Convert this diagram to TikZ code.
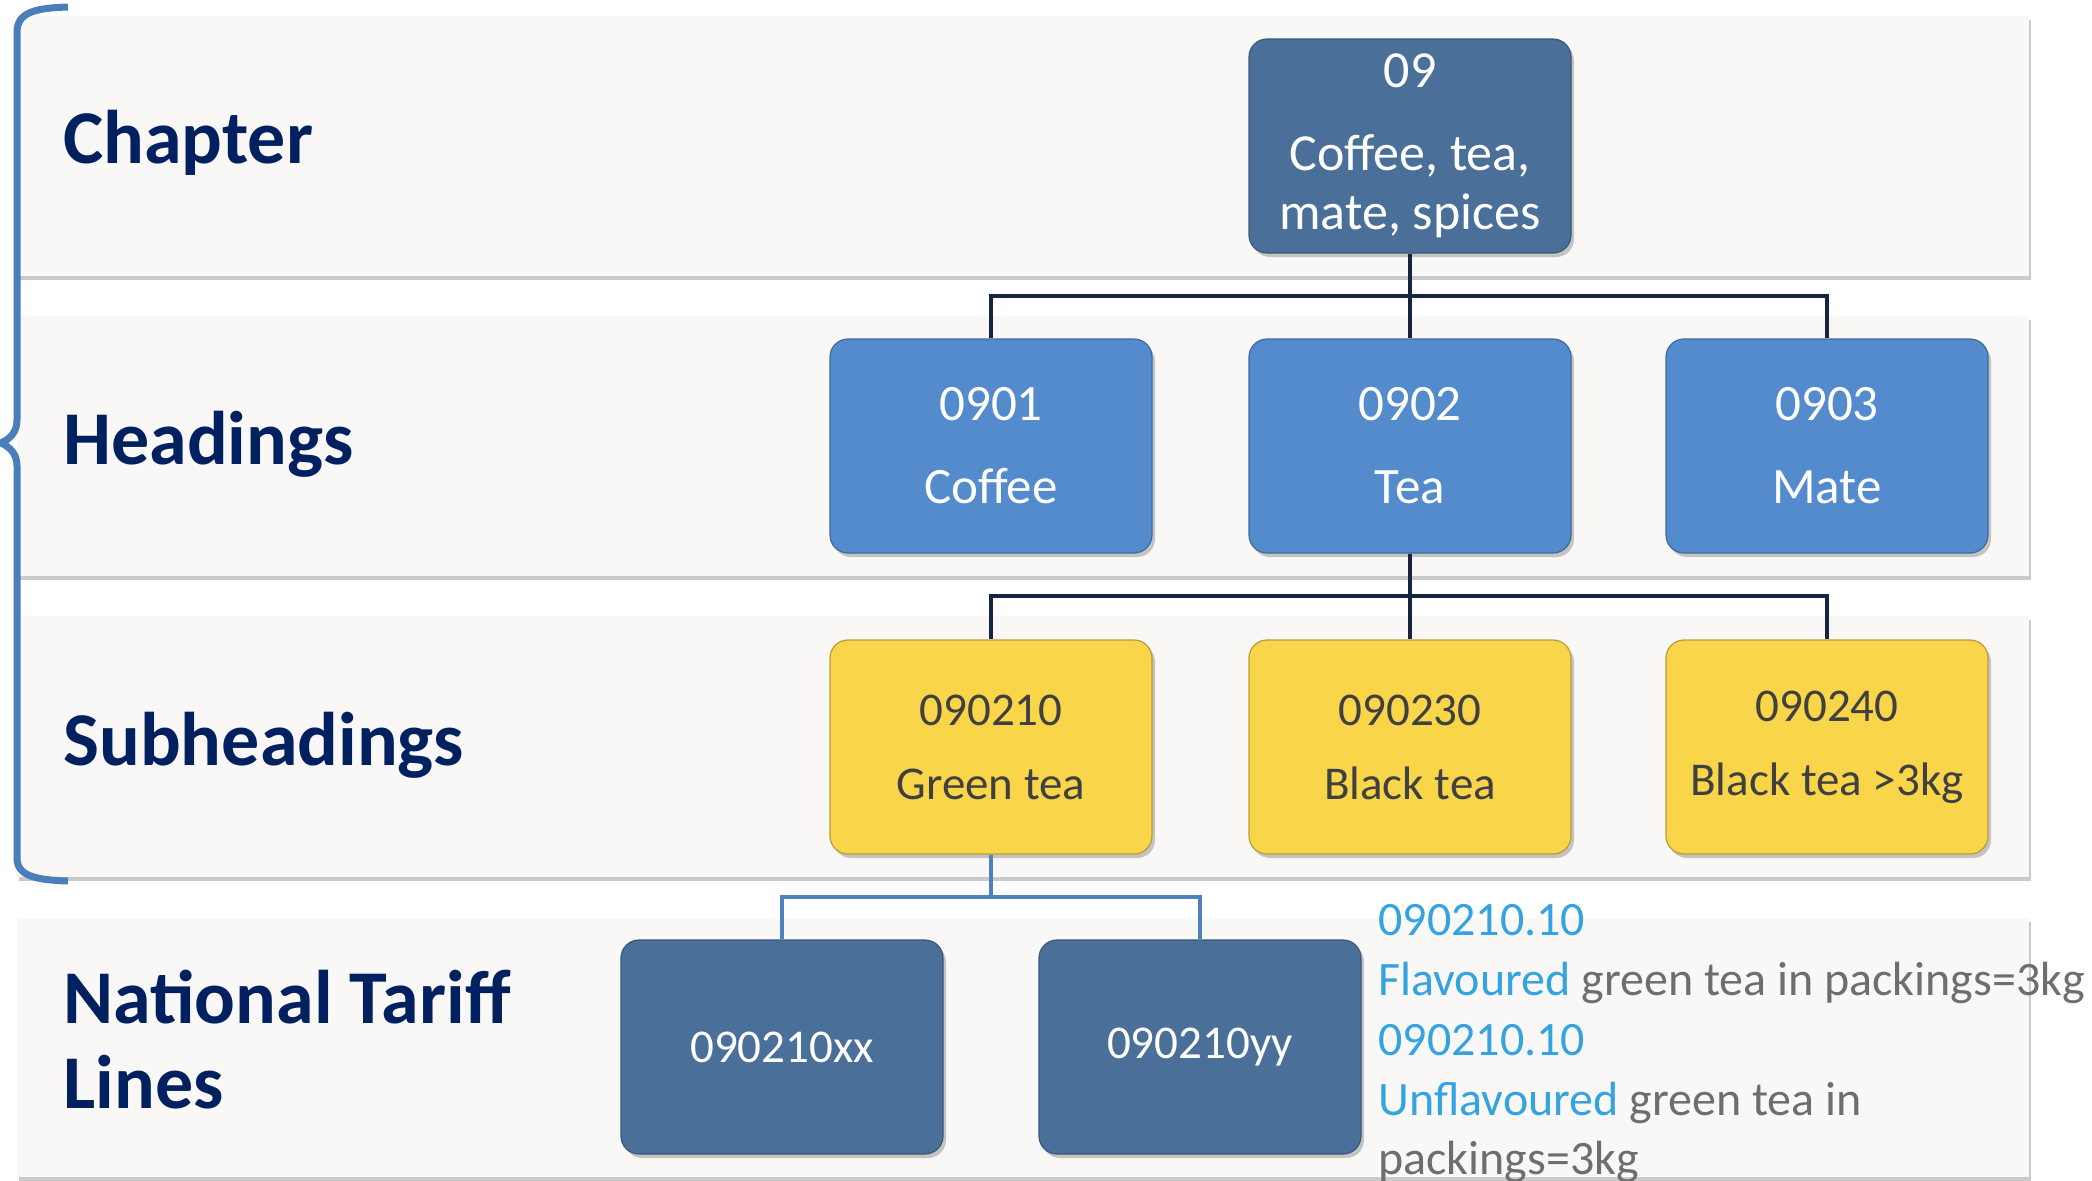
\documentclass[tikz,border=0pt]{standalone}
\usepackage{fontspec}
\setmainfont{Carlito}
\usetikzlibrary{shadows}

\definecolor{bandfill}{RGB}{249,248,247}
\definecolor{navy}{RGB}{0,32,96}
\definecolor{steel}{RGB}{74,112,153}
\definecolor{steeledge}{RGB}{58,88,122}
\definecolor{midblue}{RGB}{84,139,204}
\definecolor{midblueedge}{RGB}{62,106,160}
\definecolor{gold}{RGB}{249,213,74}
\definecolor{goldedge}{RGB}{186,156,52}
\definecolor{darktext}{RGB}{64,64,64}
\definecolor{noteblue}{RGB}{52,163,226}
\definecolor{notegrey}{RGB}{110,110,110}
\definecolor{bracecol}{RGB}{74,126,187}
\definecolor{treeline}{RGB}{23,36,63}
\definecolor{linkblue}{RGB}{79,129,189}

\tikzset{
  band/.style={fill=bandfill, draw=none,
    drop shadow={shadow xshift=1pt, shadow yshift=-1.8pt, opacity=0.35, fill=black!60}},
  box/.style={rounded corners=9pt, minimum width=161pt, minimum height=107pt,
    inner sep=0pt, align=center, line width=0.6pt,
    drop shadow={shadow xshift=1.5pt, shadow yshift=-2pt, opacity=0.3, fill=black!70}},
  chapbox/.style={box, fill=steel, draw=steeledge, text=white,
    font=\fontsize{26}{29.5}\selectfont},
  headbox/.style={box, fill=midblue, draw=midblueedge, text=white,
    font=\fontsize{25.5}{41.5}\selectfont},
  subbox/.style={box, fill=gold, draw=goldedge, text=darktext,
    font=\fontsize{23.5}{37}\selectfont},
  natbox/.style={box, fill=steel, draw=steeledge, text=white,
    font=\fontsize{23.5}{28}\selectfont},
  levellabel/.style={anchor=base west, inner sep=0pt, text=navy,
    font=\fontsize{38}{42.5}\selectfont\bfseries},
  note/.style={anchor=base west, inner sep=0pt, text=notegrey,
    font=\fontsize{24}{30}\selectfont},
  tree/.style={draw=treeline, line width=2pt},
  link/.style={draw=linkblue, line width=2pt},
  bracket/.style={draw=bracecol, line width=3.5pt, line cap=butt}
}

\begin{document}
\begin{tikzpicture}[x=0.5pt, y=-0.5pt]
\useasboundingbox (0,0) rectangle (2092,1180);

% level bands
\path[band] (17,16) rectangle (2029,276);
\path[band] (17,316) rectangle (2029,576);
\path[band] (17,616) rectangle (2029,877);
\path[band] (17,918) rectangle (2029,1177);

% bracket grouping the first three levels
\draw[bracket] (68,7) .. controls (36,8) and (17,12) .. (17,32)
  -- (17,420) .. controls (17,432) and (10,439) .. (1,443)
  .. controls (10,447) and (17,454) .. (17,466)
  -- (17,858) .. controls (17,876) and (36,880) .. (68,881);

% level labels
\node[levellabel] (lchap) at (63,163) {Chapter};
\node[levellabel] (lhead) at (63,464) {Headings};
\node[levellabel] (lsub) at (63,765) {Subheadings};
\node[levellabel] (lnat1) at (63,1023) {National Tariff};
\node[levellabel] (lnat2) at (63,1108) {Lines};

% junction points
\coordinate (j1) at (1410,296);
\coordinate (j2) at (1410,596);
\coordinate (j3) at (991,897);

% boxes
\node[chapbox] (c09) at (1410,146) {09\\[12pt]Coffee, tea,\\mate, spices};

\node[headbox] (h1) at (991,446) {0901\\Coffee};
\node[headbox] (h2) at (1410,446) {0902\\Tea};
\node[headbox] (h3) at (1827,446) {0903\\Mate};

\node[subbox] (s1) at (991,747) {090210\\Green tea};
\node[subbox] (s2) at (1410,747) {090230\\Black tea};
\node[subbox] (s3) at (1827,747) {090240\\Black tea >3kg};

\node[natbox] (n1) at (782,1047) {090210xx};
\node[natbox] (n2) at (1200,1047) {090210yy};

% connectors
\draw[tree] (c09.south) -- (j1);
\draw[tree] (j1) -| (h1.north);
\draw[tree] (j1) -| (h3.north);
\draw[tree] (j1) -- (h2.north);

\draw[tree] (h2.south) -- (j2);
\draw[tree] (j2) -| (s1.north);
\draw[tree] (j2) -| (s3.north);
\draw[tree] (j2) -- (s2.north);

\draw[link] (s1.south) -- (j3);
\draw[link] (j3) -| (n1.north);
\draw[link] (j3) -| (n2.north);

% tariff line descriptions
\node[note] (t1) at (1378,935) {\textcolor{noteblue}{090210.10}};
\node[note] (t2) at (1378,995) {\textcolor{noteblue}{Flavoured} green tea in packings=3kg};
\node[note] (t3) at (1378,1055) {\textcolor{noteblue}{090210.10}};
\node[note] (t4) at (1378,1115) {\textcolor{noteblue}{Unflavoured} green tea in};
\node[note] (t5) at (1378,1174) {packings=3kg};
\end{tikzpicture}
\end{document}
